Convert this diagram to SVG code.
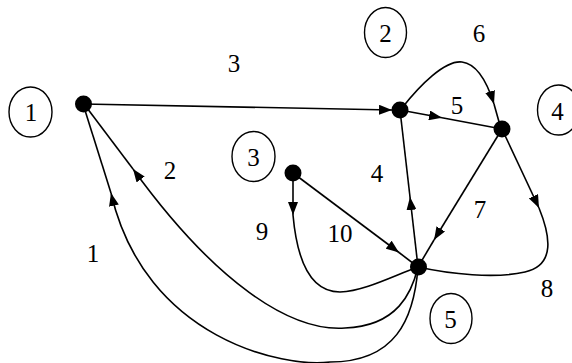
<svg xmlns="http://www.w3.org/2000/svg" width="572" height="363" viewBox="0 0 572 363" font-family="'Liberation Serif', 'Times New Roman', serif" font-size="25">
<style>
.e{fill:none;stroke:#000;stroke-width:1.6}
.a{marker-end:url(#arr)}
.dot{fill:#000}
.lc{fill:none;stroke:#000;stroke-width:1.4}
.t{fill:#000;text-anchor:middle}
</style>
<defs>
<marker id="arr" markerUnits="userSpaceOnUse" markerWidth="13" markerHeight="10" refX="13" refY="5" orient="auto">
<path d="M0,0 L13,5 L0,10 Z" fill="#000"/>
</marker>
</defs>
<rect width="572" height="363" fill="#fff"/>
<g id="connectors">
<g id="e1"><path class="e a" d="M418,267 C414,320 395,362 330,362 C285,368 145,340 111,193"/><path class="e" d="M111,193 L83,104"/></g>
<g id="e2"><path class="e a" d="M418,267 C412,292 398,326 345,328 C290,332 215,282 133,169"/><path class="e" d="M133,169 L84,104"/></g>
<g id="e3"><path class="e a" d="M83,104 L392,110"/></g>
<g id="e4"><path class="e a" d="M418,267 L410,197"/><path class="e" d="M410,197 L400,110"/></g>
<g id="e5"><path class="e a" d="M400,110 L442,117.8"/><path class="e" d="M442,117.8 L502,129"/></g>
<g id="e6"><path class="e a" d="M402,108 C420,85 445,60 462,62 C478,64 488,85 494,104"/><path class="e" d="M494,104 L501,129"/></g>
<g id="e7"><path class="e a" d="M502,129 L434,240"/><path class="e" d="M434,240 L418,267"/></g>
<g id="e8"><path class="e a" d="M502,129 L539,208"/><path class="e" d="M539,208 C550,235 556,265 525,272 C495,279 450,274 418,267"/></g>
<g id="e9"><path class="e a" d="M293,173 L293,215"/><path class="e" d="M293,215 C297,260 310,292 340,292 C365,291 395,275 418,267"/></g>
<g id="e10"><path class="e a" d="M293,173 L399,252.5"/><path class="e" d="M399,252.5 L418,267"/></g>
</g>
<g id="labels" class="t">
<text x="234" y="71.5">3</text>
<text x="479" y="41.5">6</text>
<text x="457" y="113.5">5</text>
<text x="377" y="181.5">4</text>
<text x="170" y="178.5">2</text>
<text x="93" y="262">1</text>
<text x="262" y="240">9</text>
<text x="340" y="241.5">10</text>
<text x="480" y="218">7</text>
<text x="547" y="297">8</text>
</g>
<g id="n1" class="t"><circle class="dot" cx="83.5" cy="104" r="8.5"/><ellipse class="lc" cx="30.5" cy="112" rx="21.5" ry="25"/><text x="31" y="121">1</text></g>
<g id="n2" class="t"><circle class="dot" cx="400" cy="110" r="8.5"/><ellipse class="lc" cx="385.5" cy="32.5" rx="21" ry="25"/><text x="385.5" y="42">2</text></g>
<g id="n3" class="t"><circle class="dot" cx="293" cy="173" r="8.5"/><ellipse class="lc" cx="253.5" cy="156.5" rx="21.5" ry="25"/><text x="253.5" y="166">3</text></g>
<g id="n4" class="t"><circle class="dot" cx="502" cy="129" r="8.5"/><ellipse class="lc" cx="558.5" cy="110" rx="21" ry="25"/><text x="557.5" y="119.5">4</text></g>
<g id="n5" class="t"><circle class="dot" cx="418.5" cy="267" r="8.5"/><ellipse class="lc" cx="451" cy="318.5" rx="21" ry="25"/><text x="450.5" y="328">5</text></g>
</svg>
